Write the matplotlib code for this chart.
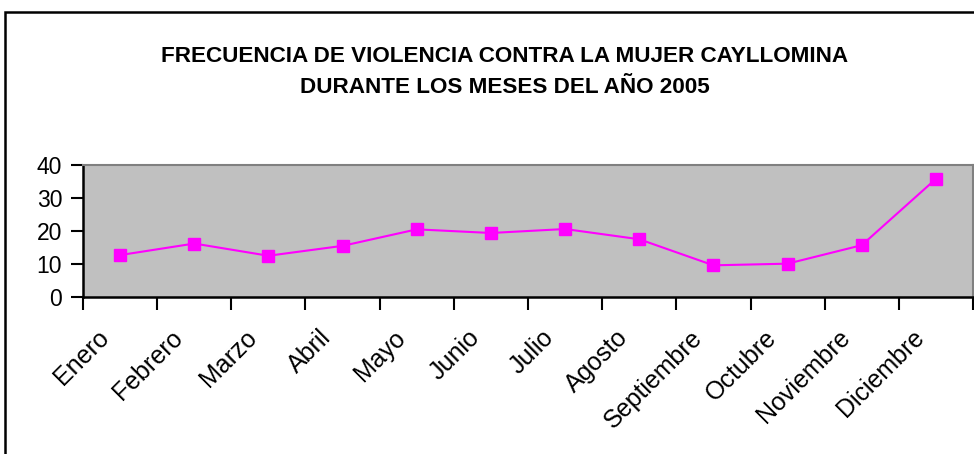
import matplotlib
matplotlib.use("Agg")
import matplotlib.pyplot as plt
from matplotlib.patches import Rectangle
from matplotlib.transforms import ScaledTranslation

months = ["Enero", "Febrero", "Marzo", "Abril", "Mayo", "Junio", "Julio",
          "Agosto", "Septiembre", "Octubre", "Noviembre", "Diciembre"]
values = [12.7, 16.2, 12.5, 15.5, 20.5, 19.4, 20.6, 17.5, 9.6, 10.1, 15.7, 35.8]
yticks = [0, 10, 20, 30, 40]
title = "FRECUENCIA DE VIOLENCIA CONTRA LA MUJER CAYLLOMINA\nDURANTE LOS MESES DEL AÑO 2005"

W, H = 974, 454
plt.rcParams["font.family"] = ["Liberation Sans", "DejaVu Sans"]
fig = plt.figure(figsize=(W / 100, H / 100), dpi=100)
fig.patch.set_facecolor("white")

# outer chart frame
fig.add_artist(Rectangle((5 / W, -0.1), 1.2, (H - 12) / H + 0.1, transform=fig.transFigure,
                         fill=False, edgecolor="black", linewidth=1.8))

ax = fig.add_axes([83 / W, 1 - 297 / H, (973 - 83) / W, (297 - 165) / H])
ax.set_facecolor("#C0C0C0")
x = list(range(len(months)))
ax.plot(x, values, color="#FF00FF", linewidth=1.5, marker="s", markersize=9,
        markerfacecolor="#FF00FF", markeredgecolor="#FF00FF", zorder=3)
ax.set_xlim(-0.5, len(months) - 0.5)
ax.set_ylim(0, 40)
ax.set_yticks(yticks)
ax.set_yticklabels([str(v) for v in yticks], fontsize=16.5)
ax.set_xticks([i - 0.5 for i in range(len(months) + 1)])
ax.set_xticklabels([])
label_tf = ax.get_xaxis_transform() + ScaledTranslation(-0.15, -0.37, fig.dpi_scale_trans)
for i, m in zip(x, months):
    ax.text(i, 0, m, transform=label_tf, rotation=45, ha="right", va="center",
            rotation_mode="anchor", fontsize=18, clip_on=False)
ax.tick_params(axis="x", which="major", length=9, width=1.5, direction="out", color="black")
ax.tick_params(axis="y", length=9, width=1.5, direction="out", pad=6)
for s in ["left", "bottom"]:
    ax.spines[s].set_color("black")
    ax.spines[s].set_linewidth(1.8)
for s in ["top", "right"]:
    ax.spines[s].set_color("#808080")
    ax.spines[s].set_linewidth(1.5)

fig.text(505 / W, 1 - 72 / H, title, ha="center", va="center", fontsize=16.2,
         fontweight="bold", linespacing=1.65)

fig.savefig("out.png", dpi=100)
